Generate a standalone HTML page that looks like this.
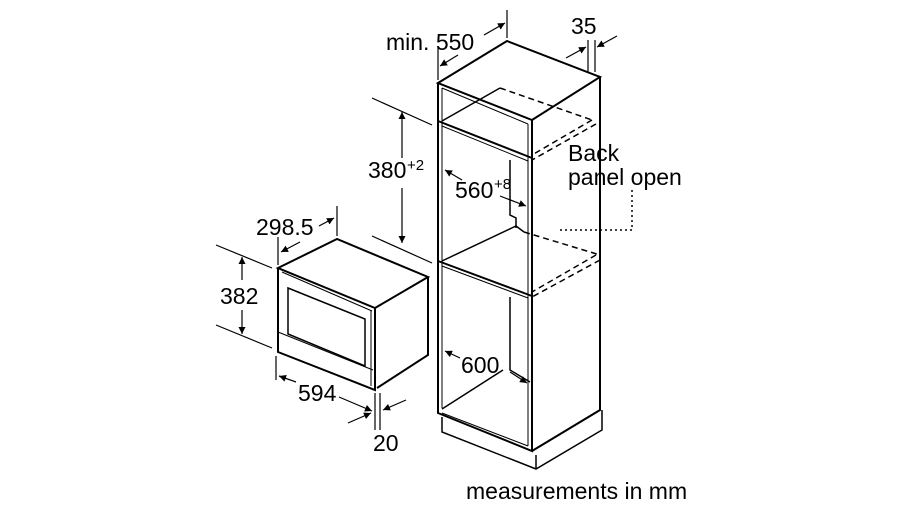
<!DOCTYPE html>
<html><head><meta charset="utf-8"><style>
html,body{margin:0;padding:0;background:#fff;}
svg{display:block;}
text{font-family:"Liberation Sans",Arial,sans-serif;fill:#000;}
</style></head><body>
<svg width="900" height="506" viewBox="0 0 900 506" xmlns="http://www.w3.org/2000/svg">
<defs>
<marker id="a" viewBox="0 0 10 10" refX="10" refY="5" markerWidth="10" markerHeight="7" orient="auto" markerUnits="userSpaceOnUse"><path d="M0,0 L10,5 L0,10 z" fill="#000"/></marker>
</defs>
<g stroke="#000" fill="none" stroke-width="1.5">
<path d="M438,83 L507,41 L600,77 L532,120 Z" stroke-width="2"/>
<path d="M438,83 L438,413 L532,451 L532,120" stroke-width="2"/>
<path d="M442,88 L442,408" stroke-width="1"/>
<path d="M528,124 L528,446" stroke-width="1"/>
<path d="M600,77 L600,410 L532,451" stroke-width="2"/>
<path d="M442,88 L528,124" stroke-width="1"/>
<path d="M438,121 L532,158" stroke-width="2"/><path d="M442,126 L528,161" stroke-width="1"/>
<path d="M442,121 L500,88"/>
<path d="M500,88 L592,120" stroke-dasharray="6,4"/>
<path d="M592,120 L532,155 M596,124 L532,160" stroke-dasharray="6,4"/>
<path d="M510,160 L510,215 L516,218 L516,228"/>
<path d="M438,261 L532,296" stroke-width="2"/><path d="M442,266 L528,298" stroke-width="1"/>
<path d="M442,261 L516,226 L524,232"/>
<path d="M524,232 L600,255" stroke-dasharray="6,4"/>
<path d="M596,255 L532,292 M600,260 L532,297" stroke-dasharray="6,4"/>
<path d="M510,297 L510,370 L530,382"/>
<path d="M442,409 L503,370"/>
<path d="M442,413 L528,446" stroke-width="1"/>
<path d="M442,417 L442,432 L536,469 L602,430 L602,410"/>
<path d="M536,455 L536,469"/>
<path d="M278,268 L337,239 L428,277 L375,308 Z" stroke-width="2"/>
<path d="M278,268 L278,352 L375,390 L375,308" stroke-width="2"/>
<path d="M428,277 L428,355 L377,388" stroke-width="2"/>
<path d="M282,272 L372,311" stroke-width="1"/>
<path d="M288,288 L365,319 L365,366 L288,334 Z"/>
<path d="M278,332 L373,370" stroke-width="1"/>
<path d="M371,310 L371,386" stroke-width="1"/>
</g>
<g stroke="#000" fill="none" stroke-width="1.2">
<path d="M438,80 L438,48 M507,38 L507,10"/>
<path d="M458,55 L440,66" marker-end="url(#a)"/>
<path d="M484,35 L505,23" marker-end="url(#a)"/>
<path d="M588,72 L588,40 M595,72 L595,40"/>
<path d="M566,58 L586,47" marker-end="url(#a)"/>
<path d="M617,36 L597,47" marker-end="url(#a)"/>
<path d="M372,98 L432,125 M372,236 L432,263"/>
<path d="M402,158 L402,112" marker-end="url(#a)"/>
<path d="M402,188 L402,243" marker-end="url(#a)"/>
<path d="M462,180 L445,170" marker-end="url(#a)"/>
<path d="M500,196 L526,206" marker-end="url(#a)"/>
<path d="M560,230 L632,230 L632,190" stroke-dasharray="2,3" stroke-width="1.5"/>
<path d="M460,358 L445,351" marker-end="url(#a)"/>
<path d="M510,372 L527,383" marker-end="url(#a)"/>
<path d="M278,265 L278,237 M337,236 L337,206"/>
<path d="M300,242 L281,252" marker-end="url(#a)"/>
<path d="M319,226 L334,218" marker-end="url(#a)"/>
<path d="M216,245 L272,268 M216,325 L272,348"/>
<path d="M242,280 L242,257" marker-end="url(#a)"/>
<path d="M242,310 L242,334" marker-end="url(#a)"/>
<path d="M276,356 L276,380 M375,393 L375,430 M380,393 L380,430"/>
<path d="M296,382 L279,376" marker-end="url(#a)"/>
<path d="M339,397 L372,411" marker-end="url(#a)"/>
<path d="M348,423 L371,413" marker-end="url(#a)"/>
<path d="M406,400 L383,410" marker-end="url(#a)"/>
</g>
<g font-size="23">
<text x="386" y="50">min. 550</text>
<text x="571" y="34">35</text>
<text x="568" y="161">Back</text>
<text x="568" y="185">panel open</text>
<text x="368" y="178">380</text><text x="407" y="170" font-size="15">+2</text>
<text x="455" y="198">560</text><text x="494" y="189" font-size="15">+8</text>
<text x="256" y="235">298.5</text>
<text x="220" y="304">382</text>
<text x="298" y="401">594</text>
<text x="373" y="451">20</text>
<text x="461" y="373">600</text>
<text x="466" y="499">measurements in mm</text>
</g>
</svg>
</body></html>
